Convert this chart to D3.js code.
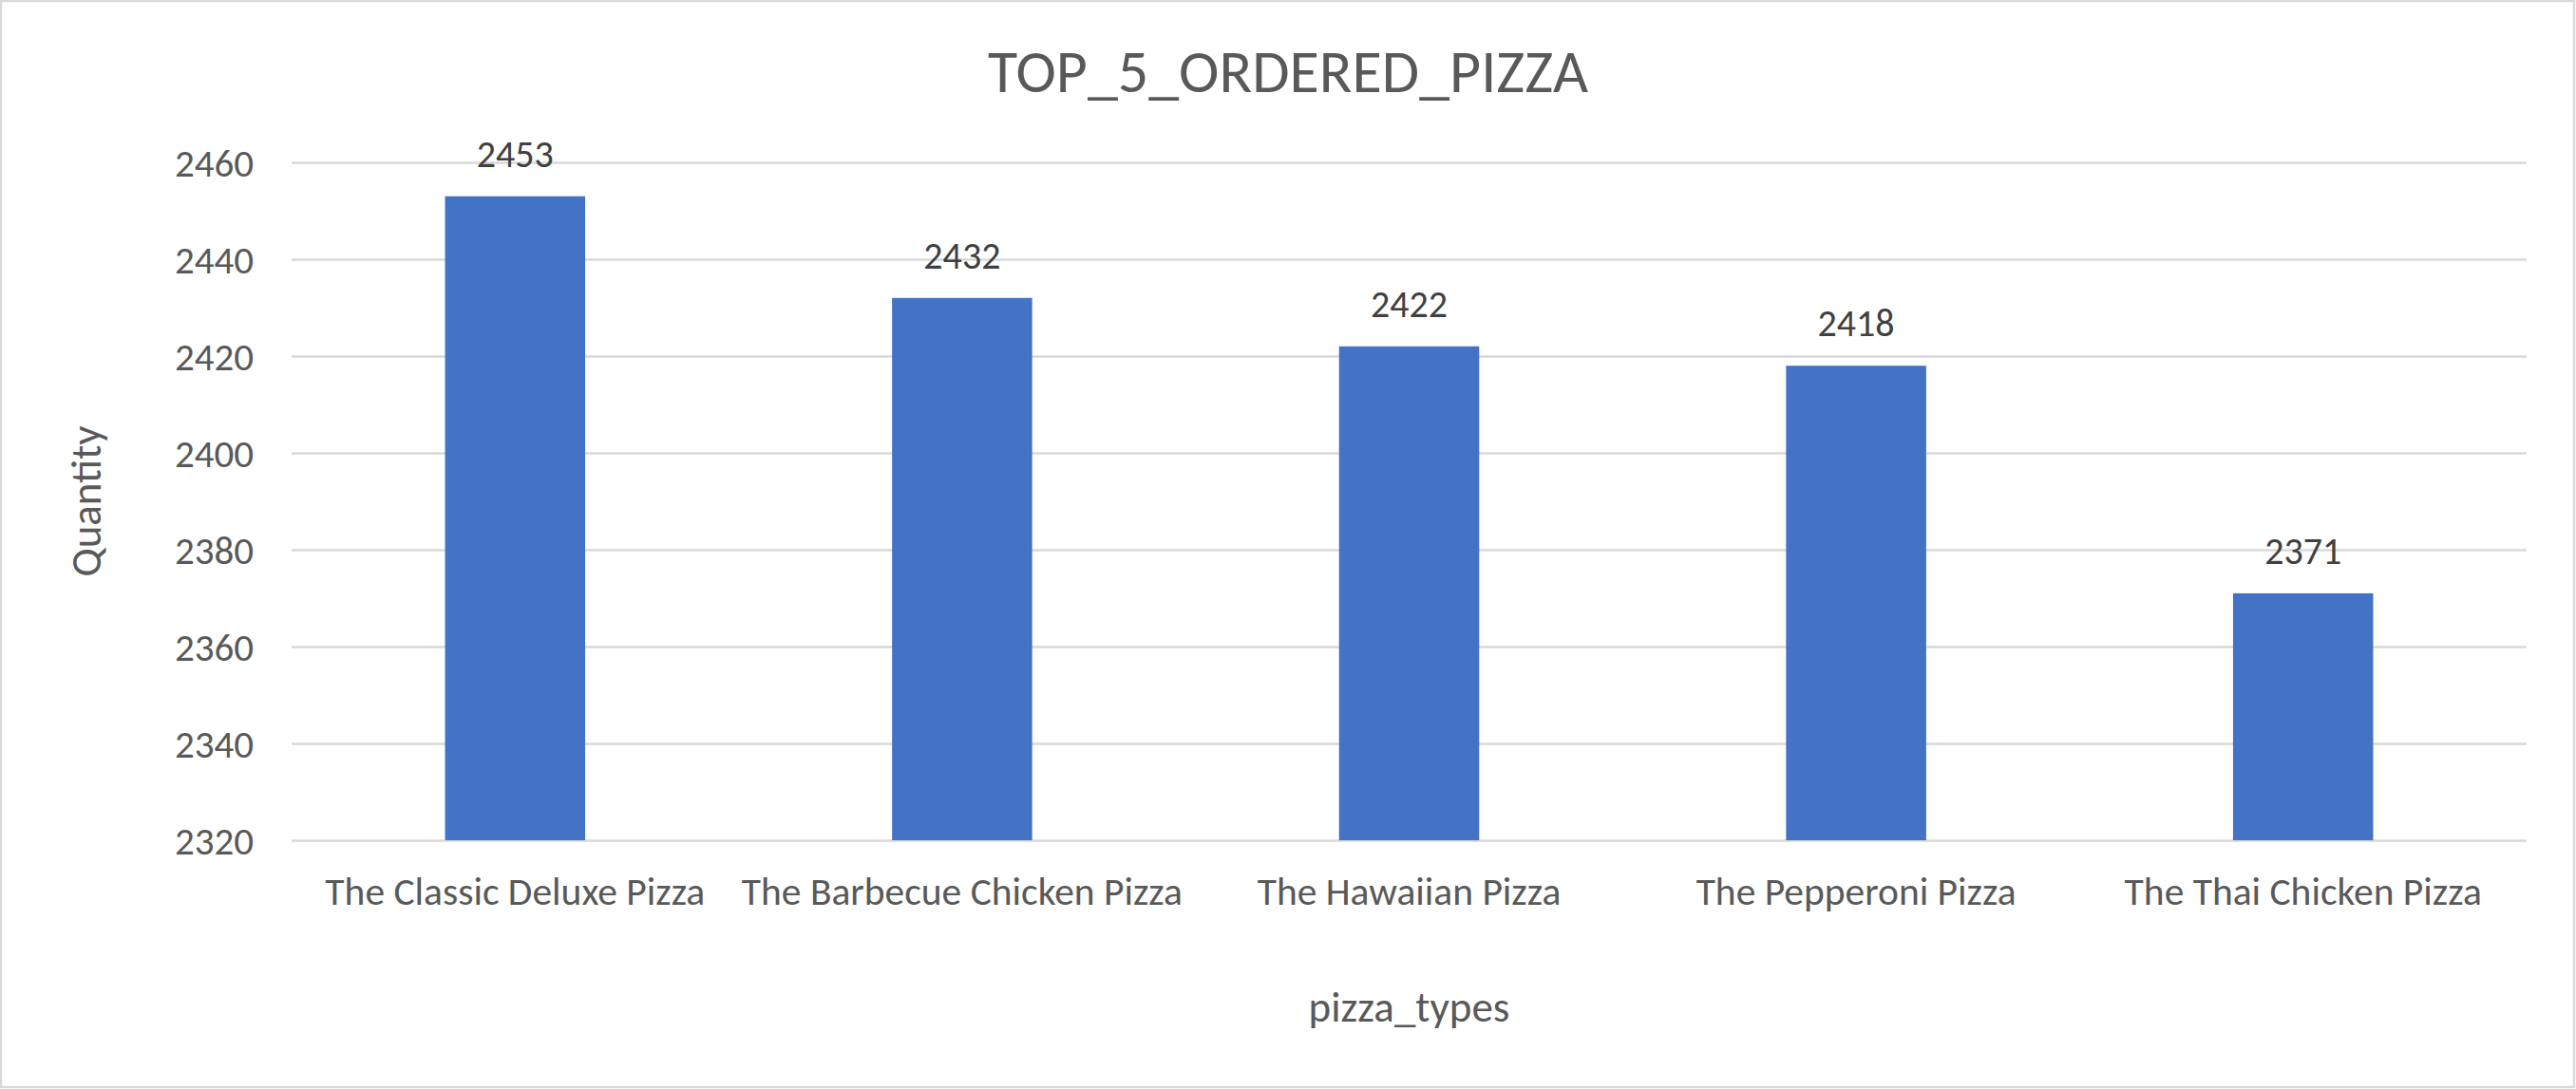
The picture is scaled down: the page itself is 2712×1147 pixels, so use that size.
<!DOCTYPE html>
<html>
<head>
<meta charset="utf-8">
<script src="https://cdn.jsdelivr.net/npm/d3@7"></script>
<style>
  html, body { margin: 0; padding: 0; background: #ffffff; }
  svg { display: block; }
  text { font-family: Carlito, Calibri, Lato, "Open Sans", sans-serif; }
</style>
</head>
<body>
<svg id="chart" width="2712" height="1147"></svg>
<script>
const chartTitle = "TOP_5_ORDERED_PIZZA";
const xAxisTitle = "pizza_types";
const yAxisTitle = "Quantity";
const categories = ["The Classic Deluxe Pizza", "The Barbecue Chicken Pizza", "The Hawaiian Pizza", "The Pepperoni Pizza", "The Thai Chicken Pizza"];
const quantities = [2453, 2432, 2422, 2418, 2371];
const yTicks = [2320, 2340, 2360, 2380, 2400, 2420, 2440, 2460];

const W = 2712, H = 1147;
const plot = { left: 307, right: 2660, top: 171, bottom: 885 };
const textColor = "#595959";
const labelColor = "#404040";
const barColor = "#4472C4";
const gridColor = "#d9d9d9";

const svg = d3.select("#chart");

// chart border
svg.append("rect")
  .attr("x", 1).attr("y", 1)
  .attr("width", W - 3).attr("height", H - 3)
  .attr("fill", "#ffffff")
  .attr("stroke", gridColor)
  .attr("stroke-width", 2.5);

const x = d3.scaleBand()
  .domain(categories)
  .range([plot.left, plot.right])
  .padding(0);

const y = d3.scaleLinear()
  .domain([d3.min(yTicks), d3.max(yTicks)])
  .range([plot.bottom, plot.top]);

const barWidth = x.bandwidth() / 3.19;

// gridlines + y tick labels via axis
const yAxis = d3.axisLeft(y)
  .tickValues(yTicks)
  .tickSize(-(plot.right - plot.left))
  .tickPadding(40)
  .tickFormat(d3.format("d"));

const gy = svg.append("g")
  .attr("transform", `translate(${plot.left},0)`)
  .call(yAxis);
gy.select(".domain").remove();
gy.selectAll(".tick line")
  .attr("stroke", gridColor)
  .attr("stroke-width", 2.7);
gy.selectAll(".tick text")
  .attr("fill", textColor)
  .style("font-size", "41px")
  .attr("dy", "0.35em");

// bars
svg.append("g").selectAll("rect")
  .data(quantities)
  .join("rect")
  .attr("x", (d, i) => x(categories[i]) + (x.bandwidth() - barWidth) / 2)
  .attr("y", d => y(d))
  .attr("width", barWidth)
  .attr("height", d => y(d3.min(yTicks)) - y(d))
  .attr("fill", barColor);

// data labels
svg.append("g").selectAll("text")
  .data(quantities)
  .join("text")
  .attr("x", (d, i) => x(categories[i]) + x.bandwidth() / 2)
  .attr("y", d => y(d) - 31)
  .attr("text-anchor", "middle")
  .attr("fill", labelColor)
  .style("font-size", "40px")
  .text(d => d);

// x axis category labels
const xAxis = d3.axisBottom(x).tickSize(0).tickPadding(0);
const gx = svg.append("g")
  .attr("transform", `translate(0,${plot.bottom})`)
  .call(xAxis);
gx.select(".domain").remove();
gx.selectAll(".tick text")
  .attr("fill", textColor)
  .style("font-size", "41.5px")
  .attr("dy", null)
  .attr("y", 68);

// title
svg.append("text")
  .attr("x", W / 2)
  .attr("y", 97)
  .attr("text-anchor", "middle")
  .attr("fill", textColor)
  .style("font-size", "64px")
  .text(chartTitle);

// x axis title
svg.append("text")
  .attr("x", (plot.left + plot.right) / 2)
  .attr("y", 1076)
  .attr("text-anchor", "middle")
  .attr("fill", textColor)
  .style("font-size", "45px")
  .text(xAxisTitle);

// y axis title
svg.append("text")
  .attr("transform", `translate(106,${(plot.top + plot.bottom) / 2}) rotate(-90)`)
  .attr("text-anchor", "middle")
  .attr("fill", textColor)
  .style("font-size", "45px")
  .text(yAxisTitle);
</script>
</body>
</html>
